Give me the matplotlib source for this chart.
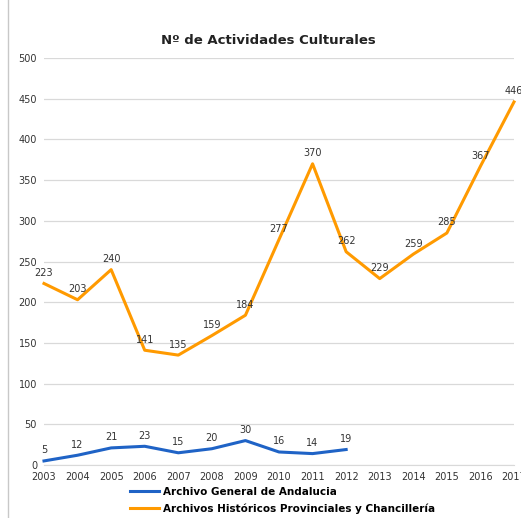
import matplotlib.pyplot as plt
from matplotlib.lines import Line2D

# datos
years_agad = [2003, 2004, 2005, 2006, 2007, 2008, 2009, 2010, 2011, 2012]
agad = [5, 12, 21, 23, 15, 20, 30, 16, 14, 19]
years_ahp = list(range(2003, 2018))
ahp = [223, 203, 240, 141, 135, 159, 184, 277, 370, 262, 229, 259, 285, 367, 446]
yticks = [0, 50, 100, 150, 200, 250, 300, 350, 400, 450, 500]

blue = '#1f63c6'
orange = '#ff9a00'

fig = plt.figure(figsize=(5.21, 5.18), dpi=100)
W, H = 521, 518
ax = fig.add_axes([44 / W, (H - 465) / H, (514 - 44) / W, (465 - 58) / H])

ax.plot(years_agad, agad, color=blue, lw=2.2, clip_on=False)
ax.plot(years_ahp, ahp, color=orange, lw=2.2, clip_on=False)

# etiquetas de datos
for x, y in zip(years_agad, agad):
    ax.annotate(str(y), (x, y), xytext=(0, 4), textcoords='offset points',
                ha='center', va='bottom', fontsize=7, color='#333333')
for x, y in zip(years_ahp, ahp):
    ax.annotate(str(y), (x, y), xytext=(0, 4), textcoords='offset points',
                ha='center', va='bottom', fontsize=7, color='#333333')

ax.set_xlim(2003, 2017)
ax.set_ylim(0, 500)
ax.set_yticks(yticks)
ax.set_xticks(years_ahp)
ax.grid(axis='y', color='#d9d9d9', lw=0.9)
ax.set_axisbelow(True)
for s in ['top', 'right', 'left']:
    ax.spines[s].set_visible(False)
ax.spines['bottom'].set_color('#d9d9d9')
ax.tick_params(axis='both', length=0, labelsize=7, colors='#333333')
ax.tick_params(axis='y', pad=5)
ax.tick_params(axis='x', pad=5)

fig.text(268 / W, 1 - 40 / H, 'Nº de Actividades Culturales', ha='center',
         va='center', fontsize=9.5, fontweight='bold', color='#222222')

# leyenda
handles = [Line2D([], [], color=blue, lw=2.2),
           Line2D([], [], color=orange, lw=2.2)]
labels = ['Archivo General de Andalucia',
          'Archivos Históricos Provinciales y Chancillería']
fig.legend(handles, labels, loc='upper left', bbox_to_anchor=(128 / W, 1 - 485 / H),
           frameon=False, prop={'weight': 'bold', 'size': 7.5},
           handlelength=2.8, handletextpad=0.4, labelspacing=0.6,
           borderaxespad=0, borderpad=0.2)

# borde izquierdo
fig.add_artist(Line2D([8 / W, 8 / W], [0, 1], color='#c8c8c8', lw=1))

fig.savefig('out.png', dpi=100)
